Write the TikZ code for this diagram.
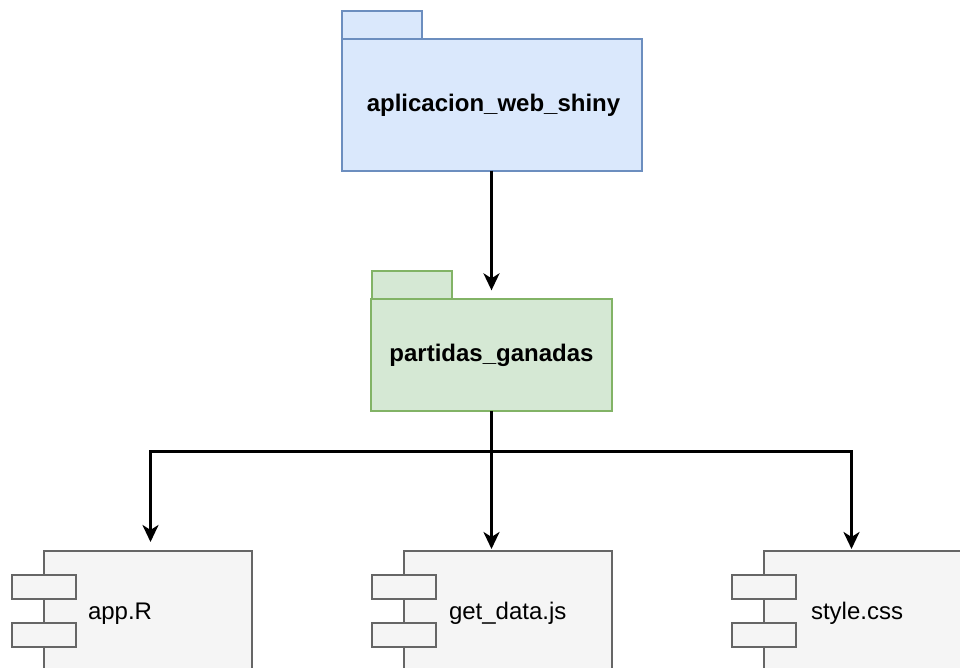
\documentclass[tikz,border=0pt]{standalone}
\usepackage{fontspec}
\setmainfont{Liberation Sans}
\usetikzlibrary{arrows.meta}
\definecolor{blueFill}{HTML}{DAE8FC}
\definecolor{blueLine}{HTML}{6C8EBF}
\definecolor{greenFill}{HTML}{D5E8D4}
\definecolor{greenLine}{HTML}{82B366}
\definecolor{grayFill}{HTML}{F5F5F5}
\definecolor{grayLine}{HTML}{666666}
\begin{document}
\begin{tikzpicture}[x=1pt,y=-1pt,
  every node/.style={inner sep=0pt, outer sep=0pt},
  pkgblue/.style={draw=blueLine, fill=blueFill, line width=2pt},
  pkggreen/.style={draw=greenLine, fill=greenFill, line width=2pt},
  comp/.style={draw=grayLine, fill=grayFill, line width=2pt, minimum width=208pt, minimum height=160pt},
  port/.style={draw=grayLine, fill=grayFill, line width=2pt, minimum width=64pt, minimum height=24pt},
  boldlabel/.style={font=\bfseries\fontsize{24}{28}\selectfont},
  complabel/.style={font=\fontsize{24}{28}\selectfont, anchor=west},
  conn/.style={line width=3pt, -{Stealth[length=17pt, width=16pt, inset=5pt]}}
]
\useasboundingbox (0,0) rectangle (960,668);
\clip (0,0) rectangle (960,668);

% top package
\node[pkgblue, minimum width=80.6pt, minimum height=28.6pt] (tabA) at (382,25) {};
\node[pkgblue, boldlabel, minimum width=300pt, minimum height=131.4pt] (pkgA) at (491.5,105) {\hspace*{4pt}aplicacion\_web\_shiny};

% middle package
\node[pkggreen, minimum width=80.6pt, minimum height=28.6pt] (tabB) at (412,285) {};
\node[pkggreen, boldlabel, minimum width=240.6pt, minimum height=111.7pt] (pkgB) at (491.5,355.2) {partidas\_ganadas};

% components
\node[comp] (compL) at (147.5,631) {};
\node[port] (portL1) at (44,587) {};
\node[port] (portL2) at (44,635) {};
\node[complabel] (labL) at (88,613.5) {app.R};

\node[comp] (compM) at (508,631) {};
\node[port] (portM1) at (404,587) {};
\node[port] (portM2) at (404,635) {};
\node[complabel] (labM) at (449,613.5) {get\_data.js};

\node[comp] (compR) at (867.5,631) {};
\node[port] (portR1) at (764,587) {};
\node[port] (portR2) at (764,635) {};
\node[complabel] (labR) at (811,613.5) {style.css};

% connectors
\draw[conn] (pkgA.south) -- ([yshift=9pt]pkgA.south |- pkgB.north);
\coordinate (split) at ([yshift=-40.45pt]pkgB.south);
\draw[conn] (pkgB.south) -- (split) -| ([xshift=3pt, yshift=9pt]compL.north);
\draw[conn] (pkgB.south) -- ([yshift=2pt]pkgB.south |- compM.north);
\draw[conn] (split) -| ([xshift=-16pt, yshift=2pt]compR.north);
\end{tikzpicture}
\end{document}
